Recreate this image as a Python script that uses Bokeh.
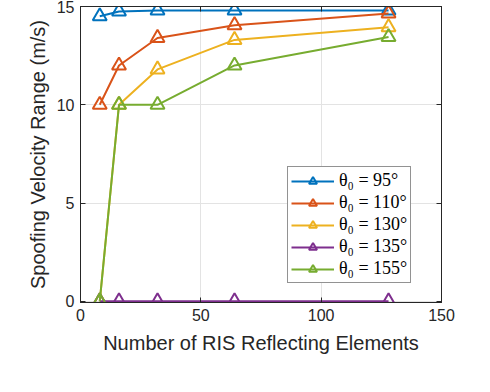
from bokeh.plotting import figure
from bokeh.models import LinearAxis, FixedTicker, Range1d
from bokeh.embed import file_html
from bokeh.resources import INLINE

elements = [8, 16, 32, 64, 128]
v95 = [14.5, 14.75, 14.8, 14.8, 14.8]
v110 = [10.0, 12.0, 13.4, 14.05, 14.65]
v130 = [0.0, 10.0, 11.8, 13.3, 13.95]
v135 = [0.0, 0.0, 0.0, 0.0, 0.0]
v155 = [0.0, 10.0, 10.0, 12.0, 13.45]
labels = ["θ₀ = 95°", "θ₀ = 110°", "θ₀ = 130°", "θ₀ = 135°", "θ₀ = 155°"]
colors = ["#0072BD", "#D95319", "#EDB120", "#7E2F8E", "#77AC30"]
x_ticks = [0, 50, 100, 150]
y_ticks = [0, 5, 10, 15]

FONT = "Liberation Sans"
AX = "#262626"

p = figure(width=455, height=362, output_backend="svg", toolbar_location=None,
           x_range=Range1d(0, 150), y_range=Range1d(-0.06, 15),
           min_border_left=80, min_border_right=14, min_border_top=6, min_border_bottom=60)
p.background_fill_color = "white"
p.border_fill_color = "white"
p.outline_line_color = AX
p.outline_line_width = 1

for ax in [p.xaxis[0], p.yaxis[0]]:
    ax.major_label_text_font = FONT
    ax.major_label_text_font_size = "16px"
    ax.major_label_text_color = AX
    ax.axis_label_text_font = FONT
    ax.axis_label_text_font_size = "20px"
    ax.axis_label_text_font_style = "normal"
    ax.axis_label_text_color = AX
    ax.axis_line_color = AX
    ax.major_tick_line_color = AX
    ax.major_tick_in = 5
    ax.major_tick_out = 0
    ax.minor_tick_line_color = None

p.xaxis.ticker = FixedTicker(ticks=x_ticks)
p.yaxis.ticker = FixedTicker(ticks=y_ticks)
p.xaxis.axis_label = "Number of RIS Reflecting Elements"
p.yaxis.axis_label = "Spoofing Velocity Range (m/s)"
p.xaxis.axis_label_standoff = 8
p.yaxis.axis_label_standoff = 5
p.xaxis.major_label_standoff = 6
p.yaxis.major_label_standoff = 6

top = LinearAxis(ticker=FixedTicker(ticks=x_ticks), major_label_text_color=None,
                 major_label_text_font_size="0px", major_tick_in=5, major_tick_out=0,
                 minor_tick_line_color=None, axis_line_color=AX, major_tick_line_color=AX)
right = LinearAxis(ticker=FixedTicker(ticks=y_ticks), major_label_text_color=None,
                   major_label_text_font_size="0px", major_tick_in=5, major_tick_out=0,
                   minor_tick_line_color=None, axis_line_color=AX, major_tick_line_color=AX)
p.add_layout(top, "above")
p.add_layout(right, "right")

p.xgrid.grid_line_color = "#e3e3e3"
p.ygrid.grid_line_color = "#e3e3e3"
p.xgrid.ticker = FixedTicker(ticks=x_ticks)
p.ygrid.ticker = FixedTicker(ticks=y_ticks)

series = [v95, v110, v130, v135, v155]
for ys, c, lab in zip(series, colors, labels):
    p.line(elements, ys, line_color=c, line_width=2, legend_label=lab)
    p.scatter(elements, ys, marker="triangle", size=14, line_color=c, line_width=2,
              fill_color=None, legend_label=lab)

lg = p.legend[0]
lg.location = (207, 19)
lg.label_text_font = "Liberation Serif"
lg.label_text_font_size = "18px"
lg.label_text_color = "black"
lg.label_height = 20
lg.glyph_width = 43
lg.glyph_height = 20
lg.spacing = 1
lg.padding = 3
lg.margin = 0
lg.label_standoff = 5
lg.border_line_color = AX
lg.border_line_width = 1
lg.background_fill_color = "white"
lg.background_fill_alpha = 1

open("out.html", "w").write(file_html(p, INLINE))
